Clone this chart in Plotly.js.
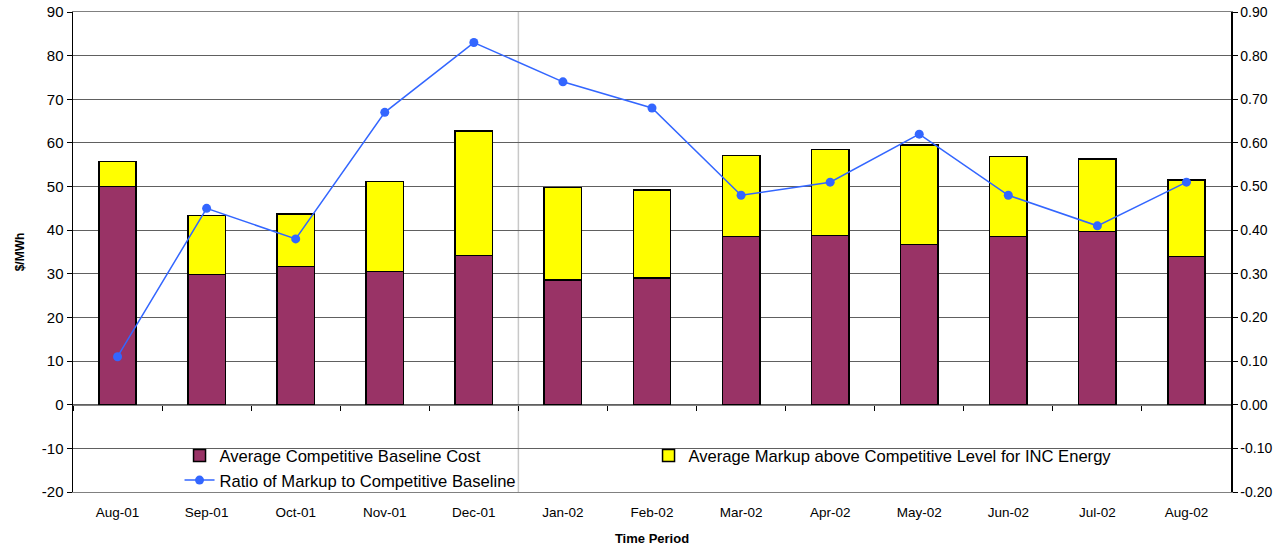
<!DOCTYPE html>
<html>
<head>
<meta charset="utf-8">
<script src="https://cdn.plot.ly/plotly-3.0.1.min.js"></script>
<style>html,body{margin:0;padding:0;background:#fff;}#chart{width:1283px;height:548px;}</style>
</head>
<body>
<div id="chart"></div>
<script>
var months = ["Aug-01","Sep-01","Oct-01","Nov-01","Dec-01","Jan-02","Feb-02","Mar-02","Apr-02","May-02","Jun-02","Jul-02","Aug-02"];
var baselineCost = [50.0, 29.8, 31.7, 30.5, 34.2, 28.6, 29.1, 38.5, 38.8, 36.7, 38.5, 39.7, 34.0];
var markup = [5.7, 13.6, 12.0, 20.7, 28.5, 21.2, 20.1, 18.6, 19.7, 22.8, 18.4, 16.6, 17.5];
var ratio = [0.11, 0.45, 0.38, 0.67, 0.83, 0.74, 0.68, 0.48, 0.51, 0.62, 0.48, 0.41, 0.51];

var leftTickVals = [-20,-10,0,10,20,30,40,50,60,70,80,90];
var leftTickText = ["-20","-10","0","10","20","30","40","50","60","70","80","90"];
var rightTickVals = [-0.2,-0.1,0,0.1,0.2,0.3,0.4,0.5,0.6,0.7,0.8,0.9];
var rightTickText = ["-0.20","-0.10","0.00","0.10","0.20","0.30","0.40","0.50","0.60","0.70","0.80","0.90"];

var font = "Liberation Sans, Arial, sans-serif";

var traces = [
  {type:"bar", name:"Average Competitive Baseline Cost", x:months, y:baselineCost,
   marker:{color:"#993366", line:{color:"#000", width:1.5}}, width:0.42},
  {type:"bar", name:"Average Markup above Competitive Level for INC Energy", x:months, y:markup,
   marker:{color:"#FFFF00", line:{color:"#000", width:1.5}}, width:0.42},
  {type:"scatter", mode:"lines+markers", name:"Ratio of Markup to Competitive Baseline",
   x:months, y:ratio, xaxis:"x2", yaxis:"y2",
   line:{color:"#3366FF", width:1.5}, marker:{color:"#3366FF", size:9}}
];

var layout = {
  width:1283, height:548,
  margin:{l:73, r:52, t:12, b:56},
  paper_bgcolor:"#fff", plot_bgcolor:"#fff",
  barmode:"stack",
  font:{family:font, size:13, color:"#000"},
  showlegend:true,
  legend:{orientation:"h", x:0.092, xanchor:"left", y:0.112, yanchor:"top",
          bgcolor:"rgba(0,0,0,0)", borderwidth:0, font:{family:font, size:16.6, color:"#000"},
          entrywidth:424, entrywidthmode:"pixels", traceorder:"normal",
          itemwidth:30, tracegroupgap:0},
  xaxis:{type:"category", categoryarray:months, range:[-0.5,12.5],
         showgrid:false, zeroline:false, showline:true, linecolor:"#808080", mirror:true,
         ticks:"", ticklabelstandoff:8, tickfont:{family:font, size:13.5},
         title:{text:"Time Period", font:{family:font, size:13, weight:"bold"}, standoff:14}},
  xaxis2:{type:"category", categoryarray:months, range:[-0.5,12.5], overlaying:"x",
          anchor:"free", position:20/110, side:"bottom",
          showgrid:false, zeroline:false, showline:true, linecolor:"#808080", linewidth:1.5,
          ticks:"outside", tickson:"boundaries", ticklen:5, tickcolor:"#000", showticklabels:false},
  yaxis:{range:[-20,90], tickmode:"array", tickvals:leftTickVals, ticktext:leftTickText,
         showgrid:true, gridcolor:"#606060", gridwidth:1,
         zeroline:false, showline:true, linecolor:"#000", linewidth:1.5, ticks:"outside", ticklen:5, tickcolor:"#000",
         tickfont:{family:font, size:15},
         title:{text:"$/MWh", font:{family:font, size:12, weight:"bold"}, standoff:14}},
  yaxis2:{range:[-0.2,0.9], tickmode:"array", tickvals:rightTickVals, ticktext:rightTickText,
          overlaying:"y", side:"right", anchor:"x2",
          showgrid:false, zeroline:false, showline:true, linecolor:"#000", linewidth:1.5,
          ticks:"outside", ticklen:5, tickcolor:"#000", tickfont:{family:font, size:14}},
  shapes:[
    {type:"rect", xref:"paper", yref:"y", x0:0.0924, x1:0.8998, y0:-13, y1:-7,
     fillcolor:"#fff", line:{width:0}, layer:"between"},
    {type:"line", xref:"x", yref:"paper", x0:4.5, x1:4.5, y0:0, y1:1,
     line:{color:"#c8c8c8", width:1.5}, layer:"between"}
  ]
};

Plotly.newPlot("chart", traces, layout, {displayModeBar:false, staticPlot:true});
</script>
</body>
</html>
